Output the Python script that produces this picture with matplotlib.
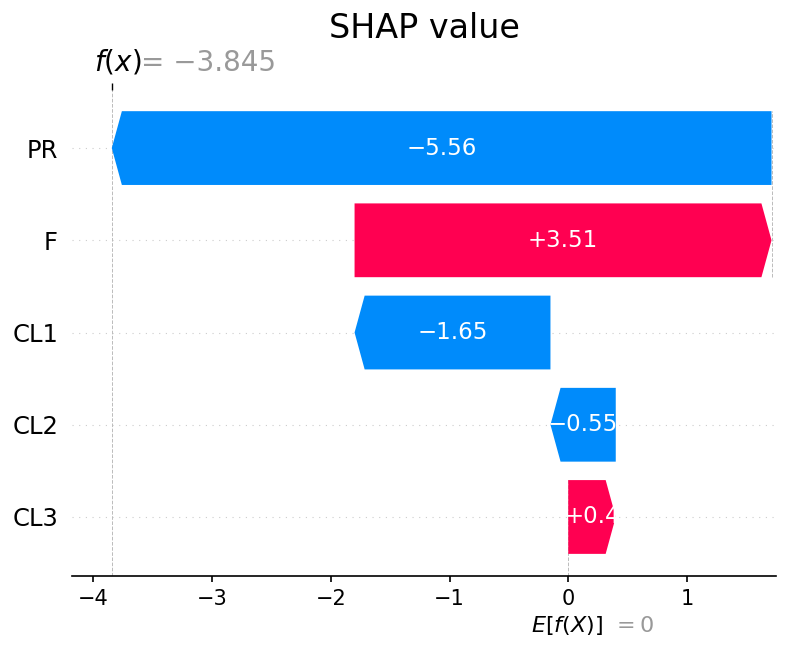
import numpy as np
import matplotlib.pyplot as plt

# rows from bottom to top, as drawn in the waterfall
features = ["CL3", "CL2", "CL1", "F", "PR"]
shap_values = [0.4, -0.55, -1.65, 3.512, -5.557]
base_value = 0.0

pos_color = "#ff0051"
neg_color = "#008bfb"
bar_h = 0.8
head_len = 0.085

fx = base_value + sum(shap_values)
n = len(features)


def fmt(v):
    s = "%+0.2f" % v
    s = s.rstrip("0").rstrip(".")
    return s.replace("-", "\u2212")


fig = plt.figure(figsize=(7.93, 6.51), dpi=100)
ax = fig.add_axes([0.0908, 0.1152, 0.8878, 0.7466])

start = base_value
ends = []
for i, v in enumerate(shap_values):
    color = pos_color if v > 0 else neg_color
    hl = min(head_len, abs(v))
    ax.arrow(start, i, v, 0, width=bar_h, head_width=bar_h, head_length=hl,
             length_includes_head=True, color=color, linewidth=0)
    ax.text(start + v / 2, i, fmt(v), ha="center", va="center",
            color="white", fontsize=16.5)
    start += v
    ends.append(start)

# dashed connector (shap only draws it for the top rows)
for i in range(n - 1):
    top_idx = n - 1 - (i + 1)  # counting from the top bar
    if top_idx + 4 < n:
        ax.plot([ends[i], ends[i]], [i - 0.4, i + 1 + 0.4], color="#bbbbbb",
                linestyle="--", linewidth=0.7, zorder=-1)

for i in range(n):
    ax.axhline(i, color="#cccccc", lw=0.8, dashes=(1, 5), zorder=-1)

ax.axvline(fx, 0, 1, color="#bbbbbb", linestyle="--", linewidth=0.7, zorder=-1)
ax.axvline(base_value, 0, 1 / n, color="#bbbbbb", linestyle="--",
           linewidth=0.7, zorder=-1)

ax.set_xlim(-4.18, 1.75)
ax.set_ylim(-0.64, 4.63)
ax.set_yticks(range(n))
ax.set_yticklabels(features, fontsize=17.5)
ax.tick_params(axis="y", length=0, pad=10)
ax.tick_params(axis="x", labelsize=15, length=4.5, width=1.2, pad=5)
for s in ["left", "top", "right"]:
    ax.spines[s].set_visible(False)
ax.spines["bottom"].set_linewidth(1.2)

# f(x) tick on top
ax3 = ax.twiny()
ax3.set_xlim(ax.get_xlim())
ax3.set_xticks([fx])
ax3.set_xticklabels([""])
ax3.tick_params(axis="x", length=5, width=1)
for s in ["left", "top", "right", "bottom"]:
    ax3.spines[s].set_visible(False)

ax.annotate("$f(x)$", xy=(fx, 1), xycoords=("data", "axes fraction"),
            xytext=(-18, 19), textcoords="offset pixels", ha="left",
            va="baseline", fontsize=20, annotation_clip=False)
ax.annotate("= " + ("%0.3f" % fx).replace("-", "\u2212"), xy=(fx, 1),
            xycoords=("data", "axes fraction"),
            xytext=(29, 19), textcoords="offset pixels", ha="left",
            va="baseline", fontsize=20, color="#999999", annotation_clip=False)

ax.annotate("$E[f(X)]$", xy=(base_value, 0), xycoords=("data", "axes fraction"),
            xytext=(-37, -56), textcoords="offset pixels", ha="left",
            va="baseline", fontsize=16, annotation_clip=False)
ax.annotate("$= %s$" % ("%g" % base_value), xy=(base_value, 0), xycoords=("data", "axes fraction"),
            xytext=(44, -56), textcoords="offset pixels", ha="left",
            va="baseline", fontsize=16, color="#999999", annotation_clip=False)

ax.annotate("SHAP value", xy=(0.5, 1), xycoords="axes fraction",
            xytext=(0, 52), textcoords="offset pixels", ha="center",
            va="baseline", fontsize=24, annotation_clip=False)

fig.savefig("out.png", dpi=100)
